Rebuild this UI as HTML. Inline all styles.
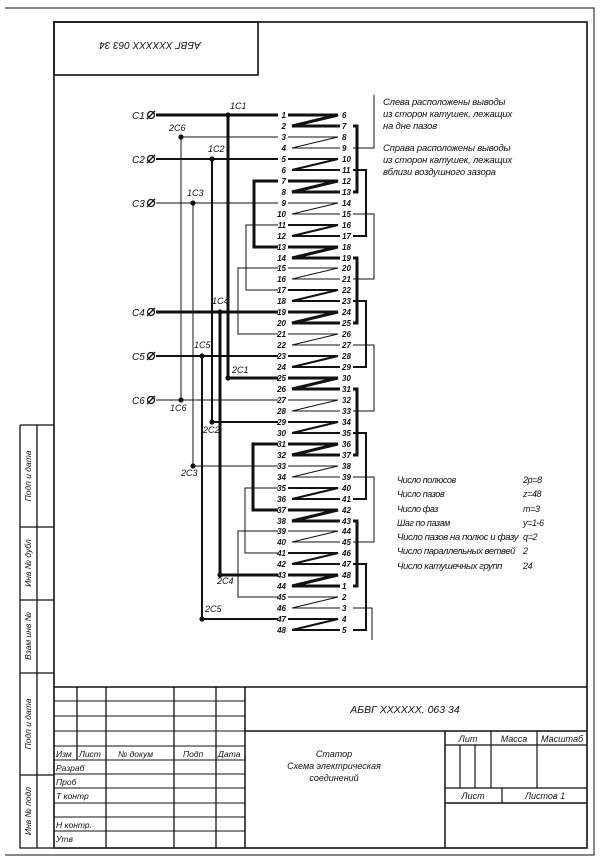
<!DOCTYPE html>
<html><head><meta charset="utf-8"><style>
html,body{margin:0;padding:0;background:#fff}
svg{display:block}
text{font-family:"Liberation Sans","DejaVu Sans",sans-serif;font-style:italic;fill:#111}
</style></head><body>
<svg width="610" height="868" viewBox="0 0 610 868" xmlns="http://www.w3.org/2000/svg">
<g fill="none" stroke="#111">
<path d="M5,8 H594 V855 H5" stroke-width="1"/>
<rect x="54" y="22" width="533" height="826" stroke-width="1.6"/>
<rect x="54" y="22" width="204" height="53" stroke-width="1.6"/>
<path d="M20,425 H54 M20,425 V848 H54 M37,425 V848 M20,527 H54 M20,600 H54 M20,673 H54 M20,775 H54" stroke-width="1.3"/>
<path d="M54,687 H587 M245,687 V848 M245,731 H587 M445,731 V848 M445,803 H587" stroke-width="1.5"/>
<path d="M54,701 H245 M54,716 H245 M54,731 H245 M54,746 H245 M54,760 H245 M54,774 H245 M54,788 H245 M54,803 H245 M54,817 H245 M54,831 H245" stroke-width="1"/>
<path d="M77,687 V760 M106,687 V848 M174,687 V848 M216,687 V848" stroke-width="1.3"/>
<path d="M445,745 H587 M491,731 V788 M537,731 V788 M460,745 V788 M475,745 V788 M445,788 H587 M502,788 V803" stroke-width="1.2"/>

<g stroke-width="3">
<path d="M288,115H338L292,126H340"/><path d="M288,181H338L292,192H340"/><path d="M288,247H338L292,258H340"/><path d="M288,312H338L292,323H340"/><path d="M288,378H338L292,389H340"/><path d="M288,444H338L292,455H340"/><path d="M288,510H338L292,521H340"/><path d="M288,575H338L292,586H340"/>
</g>
<g stroke-width="1">
<path d="M288,137H338L292,148H340"/><path d="M288,203H338L292,214H340"/><path d="M288,268H338L292,279H340"/><path d="M288,334H338L292,345H340"/><path d="M288,400H338L292,411H340"/><path d="M288,466H338L292,477H340"/><path d="M288,531H338L292,542H340"/><path d="M288,597H338L292,608H340"/>
</g>
<g stroke-width="2">
<path d="M288,159H338L292,170H340"/><path d="M288,225H338L292,236H340"/><path d="M288,290H338L292,301H340"/><path d="M288,356H338L292,367H340"/><path d="M288,422H338L292,433H340"/><path d="M288,488H338L292,499H340"/><path d="M288,553H338L292,564H340"/><path d="M288,619H338L292,630H340"/>
</g>
<g stroke-width="3"><path d="M353,126H357V192H353"/><path d="M353,258H357V323H353"/><path d="M353,389H357V455H353"/><path d="M353,521H357V586H353"/></g>
<g stroke-width="2"><path d="M353,170H366V236H353"/><path d="M353,301H366V367H353"/><path d="M353,433H366V499H353"/><path d="M353,564H366V630H353"/></g>
<g stroke-width="1"><path d="M353,214H374V279H353"/><path d="M353,345H374V411H353"/><path d="M353,477H374V542H353"/><path d="M353,148H374V95"/><path d="M353,608H372V640"/></g>
<g stroke-width="3"><path d="M278,181H254V247H278"/><path d="M278,444H253V510H278"/></g>
<g stroke-width="1"><path d="M278,225H246V290H278"/><path d="M278,268H238V334H278"/><path d="M278,488H245V553H278"/><path d="M278,531H238V597H278"/></g>
<path d="M156,115H278M228,115V378H278M156,312H278M220,312V575H278" stroke-width="3"/>
<path d="M156,159H278M212,159V422H278M156,356H278M202,356V619H278" stroke-width="2"/>
<path d="M156,203H278M193,203V466H278M156,400H278M181,137H278M181,137V400" stroke-width="1"/>
<g stroke-width="1.3">
<circle cx="151" cy="115" r="3.5"/><path d="M147,119L155,111"/>
<circle cx="151" cy="159" r="3.5"/><path d="M147,163L155,155"/>
<circle cx="151" cy="203" r="3.5"/><path d="M147,207L155,199"/>
<circle cx="151" cy="312" r="3.5"/><path d="M147,316L155,308"/>
<circle cx="151" cy="356" r="3.5"/><path d="M147,360L155,352"/>
<circle cx="151" cy="400" r="3.5"/><path d="M147,404L155,396"/>
</g>
</g>
<g fill="#111">
<circle cx="228" cy="115" r="2.6"/><circle cx="228" cy="378" r="2.6"/><circle cx="212" cy="159" r="2.6"/><circle cx="212" cy="422" r="2.6"/>
<circle cx="193" cy="203" r="2.6"/><circle cx="193" cy="466" r="2.6"/><circle cx="220" cy="312" r="2.6"/><circle cx="220" cy="575" r="2.6"/>
<circle cx="202" cy="356" r="2.6"/><circle cx="202" cy="619" r="2.6"/><circle cx="181" cy="137" r="2.6"/><circle cx="181" cy="400" r="2.6"/>
</g>
<g font-size="10">
<text x="132" y="119">C1</text><text x="132" y="163">C2</text><text x="132" y="207">C3</text>
<text x="132" y="316">C4</text><text x="132" y="360">C5</text><text x="132" y="404">C6</text>
</g>
<g font-size="9">
<text x="230" y="109">1C1</text><text x="169" y="131">2C6</text><text x="208" y="152">1C2</text><text x="187" y="196">1C3</text>
<text x="212" y="304">1C4</text><text x="194" y="348">1C5</text><text x="232" y="373">2C1</text><text x="170" y="411">1C6</text>
<text x="203" y="433">2C2</text><text x="181" y="476">2C3</text><text x="217" y="584">2C4</text><text x="205" y="612">2C5</text>
</g>
<g font-size="8" font-weight="bold" text-anchor="end">
<text x="286" y="118">1</text><text x="286" y="129">2</text><text x="286" y="140">3</text><text x="286" y="151">4</text><text x="286" y="162">5</text><text x="286" y="173">6</text><text x="286" y="184">7</text><text x="286" y="195">8</text><text x="286" y="206">9</text><text x="286" y="217">10</text><text x="286" y="228">11</text><text x="286" y="239">12</text>
<text x="286" y="250">13</text><text x="286" y="261">14</text><text x="286" y="271">15</text><text x="286" y="282">16</text><text x="286" y="293">17</text><text x="286" y="304">18</text><text x="286" y="315">19</text><text x="286" y="326">20</text><text x="286" y="337">21</text><text x="286" y="348">22</text><text x="286" y="359">23</text><text x="286" y="370">24</text>
<text x="286" y="381">25</text><text x="286" y="392">26</text><text x="286" y="403">27</text><text x="286" y="414">28</text><text x="286" y="425">29</text><text x="286" y="436">30</text><text x="286" y="447">31</text><text x="286" y="458">32</text><text x="286" y="469">33</text><text x="286" y="480">34</text><text x="286" y="491">35</text><text x="286" y="502">36</text>
<text x="286" y="513">37</text><text x="286" y="524">38</text><text x="286" y="534">39</text><text x="286" y="545">40</text><text x="286" y="556">41</text><text x="286" y="567">42</text><text x="286" y="578">43</text><text x="286" y="589">44</text><text x="286" y="600">45</text><text x="286" y="611">46</text><text x="286" y="622">47</text><text x="286" y="633">48</text>
</g>
<g font-size="8" font-weight="bold">
<text x="342" y="118">6</text><text x="342" y="129">7</text><text x="342" y="140">8</text><text x="342" y="151">9</text><text x="342" y="162">10</text><text x="342" y="173">11</text><text x="342" y="184">12</text><text x="342" y="195">13</text><text x="342" y="206">14</text><text x="342" y="217">15</text><text x="342" y="228">16</text><text x="342" y="239">17</text>
<text x="342" y="250">18</text><text x="342" y="261">19</text><text x="342" y="271">20</text><text x="342" y="282">21</text><text x="342" y="293">22</text><text x="342" y="304">23</text><text x="342" y="315">24</text><text x="342" y="326">25</text><text x="342" y="337">26</text><text x="342" y="348">27</text><text x="342" y="359">28</text><text x="342" y="370">29</text>
<text x="342" y="381">30</text><text x="342" y="392">31</text><text x="342" y="403">32</text><text x="342" y="414">33</text><text x="342" y="425">34</text><text x="342" y="436">35</text><text x="342" y="447">36</text><text x="342" y="458">37</text><text x="342" y="469">38</text><text x="342" y="480">39</text><text x="342" y="491">40</text><text x="342" y="502">41</text>
<text x="342" y="513">42</text><text x="342" y="524">43</text><text x="342" y="534">44</text><text x="342" y="545">45</text><text x="342" y="556">46</text><text x="342" y="567">47</text><text x="342" y="578">48</text><text x="342" y="589">1</text><text x="342" y="600">2</text><text x="342" y="611">3</text><text x="342" y="622">4</text><text x="342" y="633">5</text>
</g>
<g font-size="9.5" letter-spacing="-0.2">
<text x="383" y="105">Слева расположены выводы</text>
<text x="383" y="117">из сторон катушек, лежащих</text>
<text x="383" y="129">на дне пазов</text>
<text x="383" y="151">Справа расположены выводы</text>
<text x="383" y="163">из сторон катушек, лежащих</text>
<text x="383" y="175">вблизи воздушного зазора</text>
</g>
<g font-size="9" letter-spacing="-0.4">
<text x="397" y="483">Число полюсов</text><text x="523" y="483">2p=8</text>
<text x="397" y="497">Число пазов</text><text x="523" y="497">z=48</text>
<text x="397" y="512">Число фаз</text><text x="523" y="512">m=3</text>
<text x="397" y="526">Шаг по пазам</text><text x="523" y="526">y=1-6</text>
<text x="397" y="540" textLength="121" lengthAdjust="spacingAndGlyphs">Число пазов на полюс и фазу</text><text x="523" y="540">q=2</text>
<text x="397" y="554" textLength="118" lengthAdjust="spacingAndGlyphs">Число параллельных ветвей</text><text x="523" y="554">2</text>
<text x="397" y="569" textLength="105" lengthAdjust="spacingAndGlyphs">Число катушечных групп</text><text x="523" y="569">24</text>
</g>
<text x="150" y="45" font-size="10" text-anchor="middle" transform="rotate(180 150 45)" dy="3">АБВГ XXXXXX 063 34</text>
<g font-size="8.5" text-anchor="middle">
<text transform="translate(31,476) rotate(-90)">Подп и дата</text>
<text transform="translate(31,563) rotate(-90)">Инв № дубл</text>
<text transform="translate(31,636) rotate(-90)">Взам инв №</text>
<text transform="translate(31,724) rotate(-90)">Подп и дата</text>
<text transform="translate(31,811) rotate(-90)">Инв № подл</text>
</g>
<g font-size="8.5">
<text x="56" y="757">Изм</text><text x="79" y="757">Лист</text><text x="118" y="757">№ докум</text><text x="183" y="757">Подп</text><text x="218" y="757">Дата</text>
<text x="56" y="771">Разраб</text><text x="56" y="785">Проб</text><text x="56" y="799">Т контр</text>
<text x="56" y="828">Н контр.</text><text x="56" y="842">Утв</text>
</g>
<text x="405" y="713" font-size="10.5" text-anchor="middle">АБВГ XXXXXX. 063 34</text>
<g font-size="9" text-anchor="middle">
<text x="334" y="757">Статор</text>
<text x="334" y="769">Схема электрическая</text>
<text x="334" y="781">соединений</text>
<text x="468" y="742">Лит</text><text x="514" y="742">Масса</text><text x="562" y="742">Масштаб</text>
<text x="473" y="799">Лист</text><text x="545" y="799">Листов 1</text>
</g>
</svg>
</body></html>
